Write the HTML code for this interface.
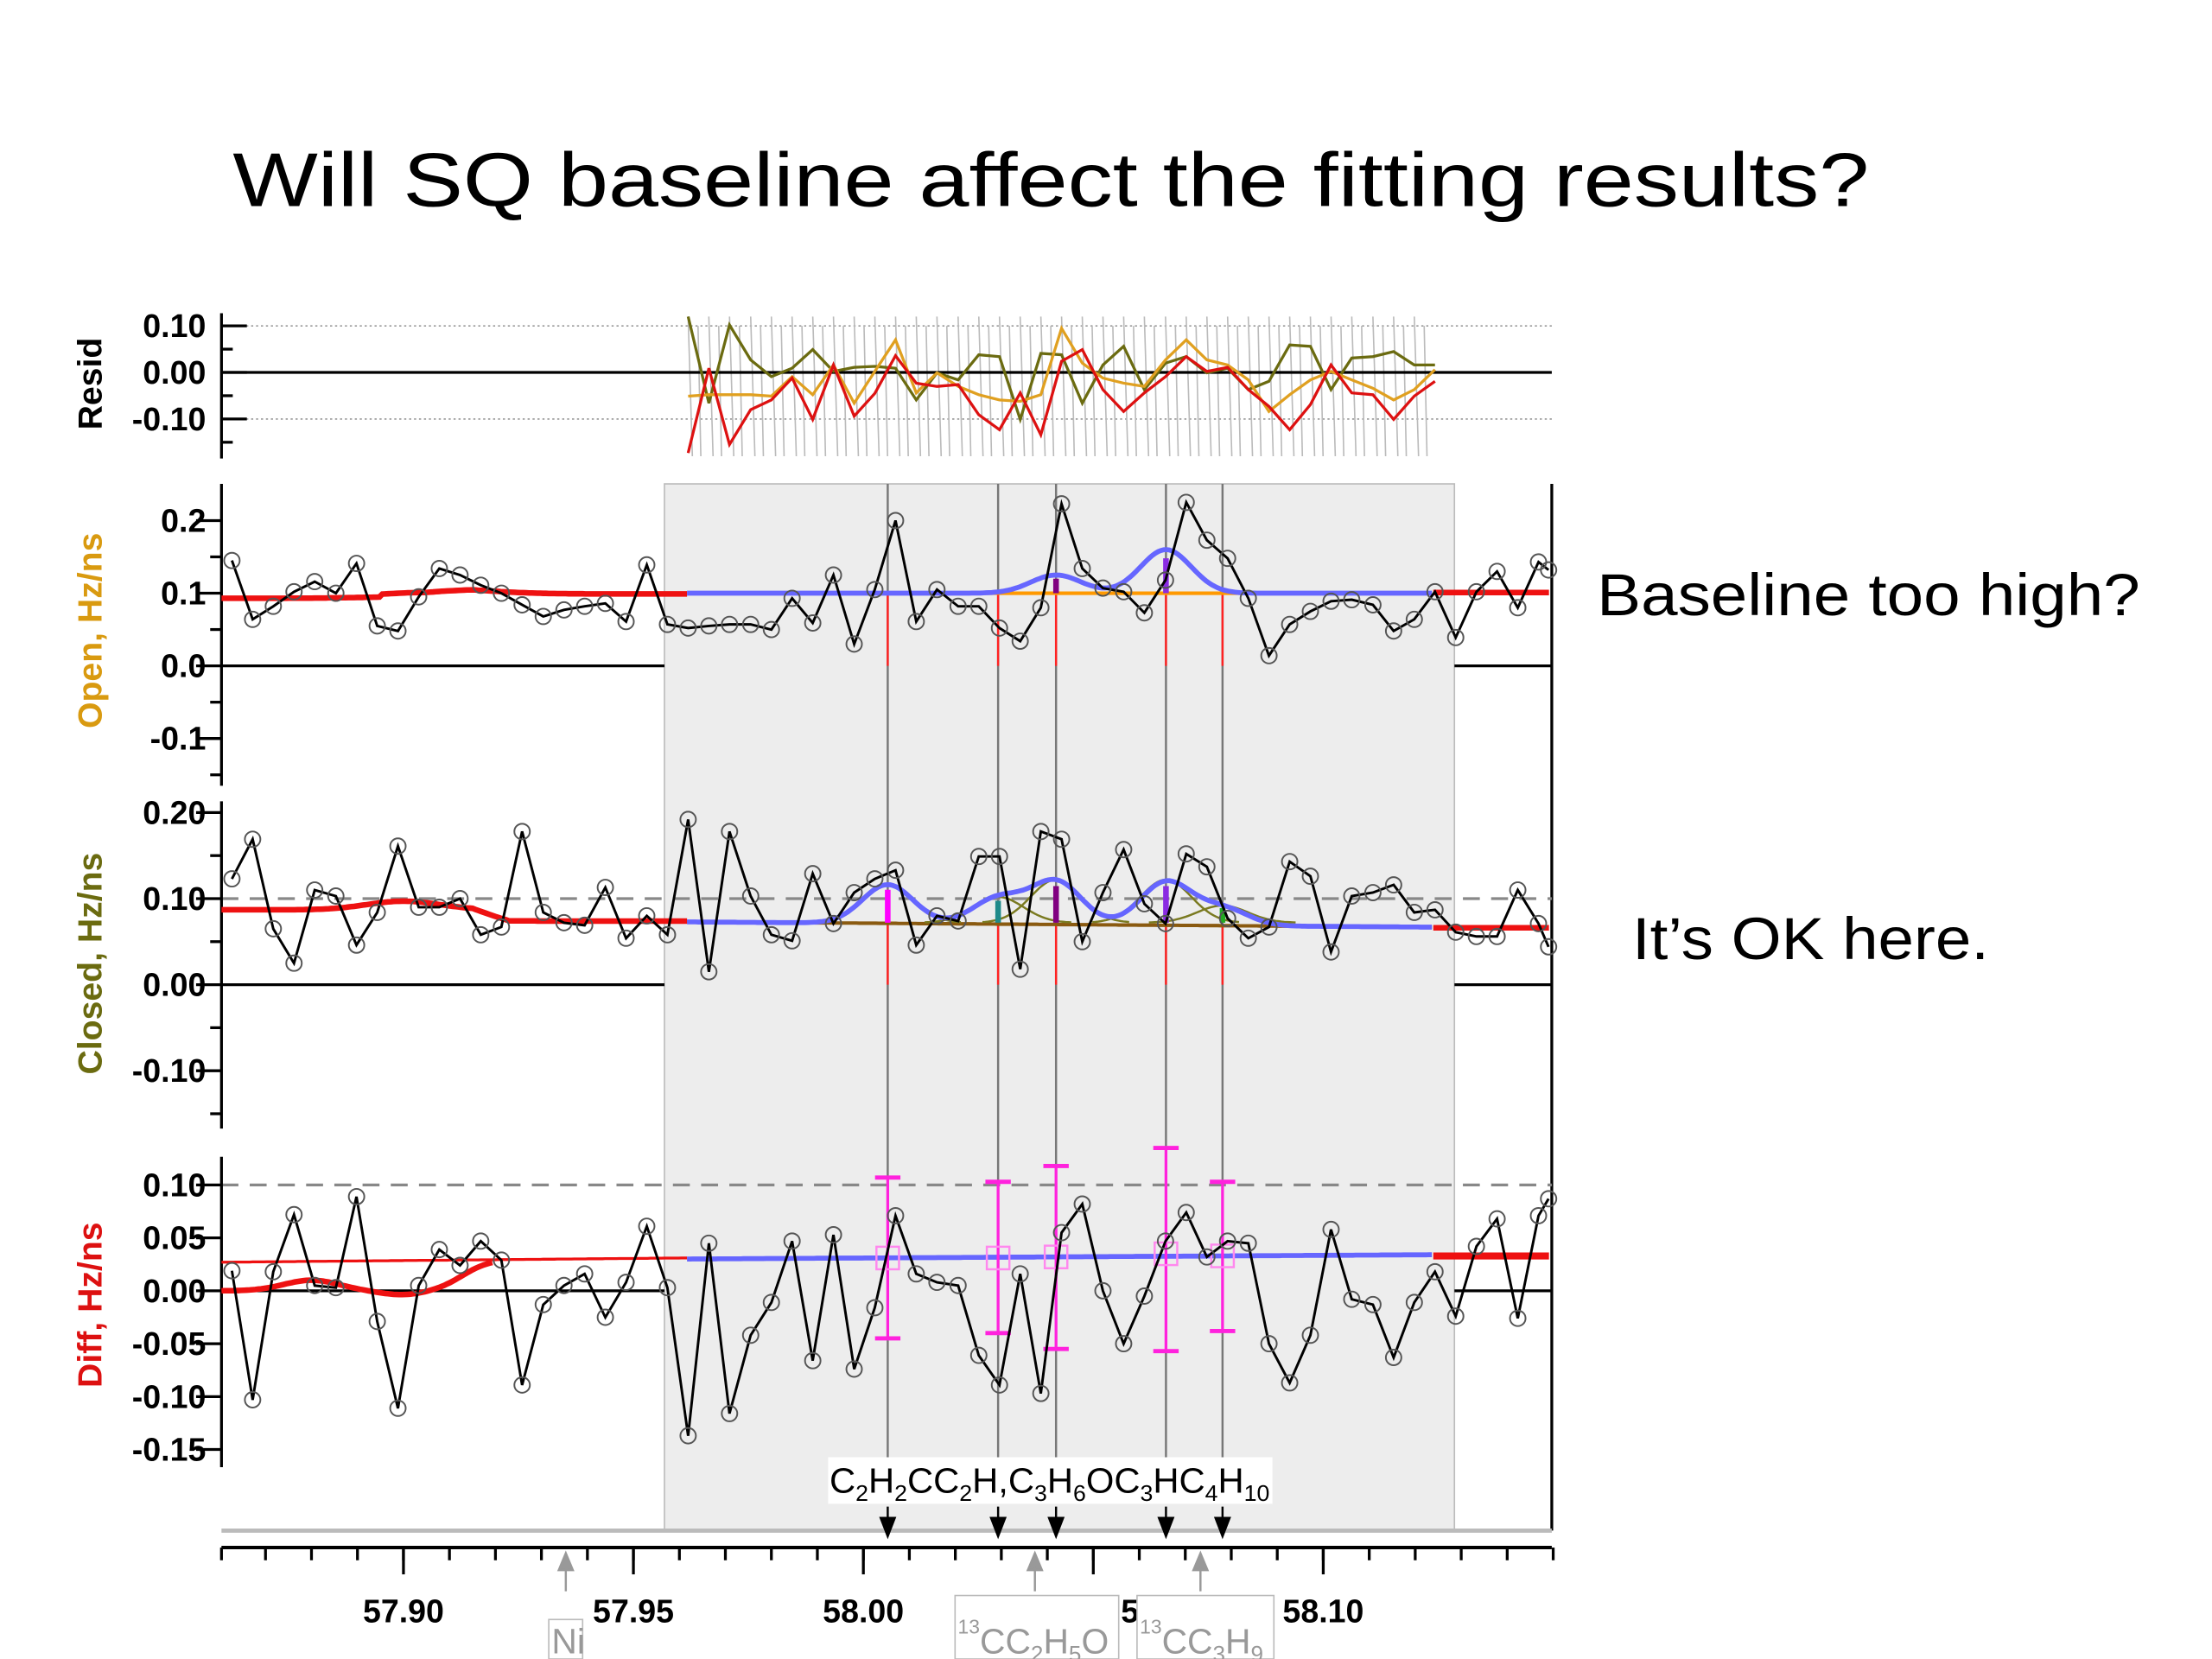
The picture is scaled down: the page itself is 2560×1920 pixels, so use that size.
<!DOCTYPE html>
<html><head><meta charset="utf-8"><style>
html,body{margin:0;padding:0;background:#fff;}
svg{display:block;}
text{font-family:"Liberation Sans",Arial,sans-serif;}
</style></head><body>
<svg id="chart" width="2560" height="1920" viewBox="0 0 1568 1176" xmlns="http://www.w3.org/2000/svg">
<rect x="0" y="0" width="1568" height="1176" fill="#fff"/>
<text x="165" y="146" font-size="54" textLength="1160" lengthAdjust="spacingAndGlyphs">Will SQ baseline affect the fitting results?</text>
<text x="1132" y="436" font-size="42" textLength="385" lengthAdjust="spacingAndGlyphs">Baseline too high?</text>
<text x="1157" y="680" font-size="42" textLength="253" lengthAdjust="spacingAndGlyphs">It’s OK here.</text>
<rect x="471" y="343" width="560" height="742" fill="#ededed" stroke="#bbb" stroke-width="1"/>
<g id="g"></g>
</svg>
<script>
const masses=[57.8627,57.8672,57.8717,57.8762,57.8807,57.8853,57.8898,57.8943,57.8988,57.9033,57.9078,57.9123,57.9168,57.9213,57.9258,57.9304,57.9349,57.9394,57.9439,57.9484,57.9529,57.9574,57.9619,57.9664,57.9709,57.9755,57.9800,57.9845,57.9890,57.9935,57.9980,58.0025,58.0070,58.0115,58.0160,58.0206,58.0251,58.0296,58.0341,58.0386,58.0431,58.0476,58.0521,58.0566,58.0611,58.0657,58.0702,58.0747,58.0792,58.0837,58.0882,58.0927,58.0972,58.1017,58.1062,58.1108,58.1153,58.1198,58.1243,58.1288,58.1333,58.1378,58.1423,58.1468,58.1490];
const openVals=[.145,.064,.082,.102,.116,.100,.141,.055,.048,.095,.134,.125,.111,.100,.084,.068,.077,.082,.086,.061,.139,.057,.052,.055,.057,.057,.050,.093,.059,.125,.030,.105,.200,.061,.105,.082,.082,.052,.034,.080,.223,.134,.107,.102,.073,.118,.225,.173,.148,.093,.014,.057,.075,.089,.091,.084,.048,.064,.102,.039,.102,.130,.080,.143,.132];
const closedVals=[.123,.169,.065,.025,.110,.103,.046,.084,.161,.090,.090,.100,.058,.067,.178,.084,.072,.069,.113,.054,.080,.058,.192,.015,.178,.103,.058,.051,.129,.071,.107,.123,.133,.046,.080,.074,.149,.149,.018,.178,.169,.050,.107,.157,.094,.071,.152,.137,.077,.054,.067,.143,.126,.038,.103,.107,.116,.084,.087,.061,.056,.056,.110,.071,.044];
const diffVals=[.019,-.103,.018,.072,.005,.003,.089,-.029,-.111,.005,.039,.024,.047,.029,-.089,-.013,.005,.016,-.025,.008,.061,.003,-.137,.045,-.116,-.042,-.011,.047,-.066,.053,-.074,-.016,.071,.016,.008,.005,-.061,-.089,.016,-.097,.055,.082,0,-.050,-.005,.047,.074,.032,.047,.045,-.050,-.087,-.042,.058,-.008,-.013,-.063,-.011,.018,-.024,.042,.068,-.026,.071,.087];
const residStart=22;
const residRed=[-.173,.009,-.155,-.080,-.059,-.012,-.101,.016,-.094,-.045,.036,-.023,-.030,-.026,-.091,-.123,-.044,-.134,.024,.049,-.037,-.084,-.044,-.009,.034,.002,.011,-.037,-.073,-.123,-.069,.016,-.044,-.048,-.101,-.051,-.019];
const residOrange=[-.051,-.048,-.048,-.048,-.051,-.009,-.048,.016,-.066,.002,.070,-.044,-.001,-.030,-.048,-.059,-.062,-.048,.095,.020,-.012,-.023,-.030,.027,.070,.027,.016,-.016,-.084,-.048,-.016,.002,-.016,-.034,-.059,-.037,.006];
const residOlive=[.120,-.066,.102,.027,-.009,.009,.049,.002,.011,.013,.009,-.059,-.001,-.016,.038,.034,-.101,.041,.038,-.066,.016,.056,-.037,.020,.034,-.001,.009,-.037,-.019,.059,.056,-.037,.031,.034,.045,.016,.016];
const peakMasses=[58.0053,58.0293,58.0419,58.0658,58.0781];
const peakLabels=["C2H2","CC2H","C3H6O","C3H","C4H10"];
const openPeakH=[0,0,0.025,0.06,0];
const closedPeakH=[0.045,0.03,0.05,0.05,0.02];
const diffErrLo=[-0.045,-0.040,-0.055,-0.057,-0.038];
const diffErrHi=[0.107,0.103,0.118,0.135,0.103];
const diffCenter=[0.031,0.031,0.032,0.035,0.033];
const stickColors=["#ff00ff","#1f8a8a","#800080","#8a2be2","#22aa22"];
const xTicks=[57.90,57.95,58.00,58.05,58.10];
const xTickLabels=["57.90","57.95","58.00","5","58.10"];
const residTicks=[0.10,0,-0.10];const residTickLabels=["0.10","0.00","-0.10"];
const openTicks=[0.2,0.1,0,-0.1];const openTickLabels=["0.2","0.1","0.0","-0.1"];
const closedTicks=[0.20,0.10,0,-0.10];const closedTickLabels=["0.20","0.10","0.00","-0.10"];
const diffTicks=[0.10,0.05,0,-0.05,-0.10,-0.15];const diffTickLabels=["0.10","0.05","0.00","-0.05","-0.10","-0.15"];

const NS="http://www.w3.org/2000/svg";
const G=document.getElementById('g');
function el(tag,attrs,parent){const e=document.createElementNS(NS,tag);for(const k in attrs)e.setAttribute(k,attrs[k]);(parent||G).appendChild(e);return e;}
const X=m=>286+(m-57.90)*3260;
const Yr=v=>264-v*330, Yo=v=>472-v*515, Yc=v=>698-v*610, Yd=v=>915-v*750;
const L=157,R=1100,FL=487,FR=1016;
function gauss(m,c,s){return Math.exp(-0.5*((m-c)/s)**2);}
function curve(fn,Y,m0,m1,attrs,name){let d="";for(let px=X(m0);px<=X(m1);px+=2){const m=57.90+(px-286)/3260;d+=(d?"L":"M")+px.toFixed(1)+","+Y(fn(m)).toFixed(1);}const p=el('path',Object.assign({d:d,fill:'none'},attrs));return p;}
function mx(px){return 57.90+(px-286)/3260;}

function yAxis(name,Y,top,bot,ticks,labels,minor,side){
  const g=el('g',{});
  el('line',{x1:L,y1:top,x2:L,y2:bot,stroke:'#000','stroke-width':2},g);
  ticks.forEach((t,i)=>{const y=Y(t);
    el('line',{x1:side>0?L:L-18,y1:y,x2:side>0?L+18:L,y2:y,stroke:'#000','stroke-width':2},g);
    const tx=el('text',{x:146,y:y+8,'font-size':23,'font-weight':'bold','text-anchor':'end'},g);tx.textContent=labels[i];});
  minor.forEach(t=>{const y=Y(t);el('line',{x1:side>0?L:L-8,y1:y,x2:side>0?L+8:L,y2:y,stroke:'#000','stroke-width':2},g);});
}
function yTitle(name,txt,color,cy){const t=el('text',{x:0,y:0,'font-size':24,'font-weight':'bold',fill:color,'text-anchor':'middle',transform:`translate(72,${cy}) rotate(-90)`});t.textContent=txt;}

// Resid panel
[0.10,-0.10].forEach(v=>{const l=el('line',{x1:L,y1:Yr(v),x2:R,y2:Yr(v),stroke:'#999','stroke-width':1,'stroke-dasharray':'1.5,2'});});
const grayIdx=[0,1,2,3,4,5,6,7,8,9,10,11,12,13,14,15,16,17,18,19,20,21,22,23,24,25,26,27,28,29,30,31,32,33,34,35];
grayIdx.forEach(k=>{const i=residStart+k;const x0=X(masses[i]);const p=el('path',{d:`M${x0},${Yr(0.12)}L${x0+3},${Yr(-0.18)}M${x0+7},${Yr(0.10)}L${x0+9},${Yr(-0.18)}`,stroke:'#bbb','stroke-width':1,fill:'none'});});
el('line',{x1:L,y1:Yr(0),x2:R,y2:Yr(0),stroke:'#000','stroke-width':2});
yAxis('resid-y-axis',Yr,222,325,residTicks,residTickLabels,[0.05,-0.05,-0.15],1);
yTitle('resid-y-title','Resid','#000',272);
[[residOlive,'#6b6b10','resid-closed-line'],[residOrange,'#e0a020','resid-open-line'],[residRed,'#dd1111','resid-diff-line']].forEach(([arr,c,n])=>{
  const d=arr.map((v,k)=>(k?'L':'M')+X(masses[residStart+k]).toFixed(1)+','+Yr(v).toFixed(1)).join('');
  const p=el('path',{d:d,fill:'none',stroke:c,'stroke-width':2});});

peakMasses.forEach((m,i)=>{const l=el('line',{x1:X(m),y1:343,x2:X(m),y2:1065,stroke:'#777','stroke-width':1.5});});
el('line',{x1:R,y1:343,x2:R,y2:1085,stroke:'#000','stroke-width':2});

// Open panel
el('line',{x1:L,y1:Yo(0),x2:471,y2:Yo(0),stroke:'#000','stroke-width':2});
el('line',{x1:1031,y1:Yo(0),x2:R,y2:Yo(0),stroke:'#000','stroke-width':2});
yAxis('open-y-axis',Yo,343,557,openTicks,openTickLabels,[0.15,0.05,-0.05,-0.15],-1);
yTitle('open-y-title','Open, Hz/ns','#d99a10',447);
peakMasses.forEach((m,i)=>{const l=el('line',{x1:X(m),y1:Yo(0),x2:X(m),y2:Yo(0.1),stroke:'#ff2222','stroke-width':1.5});});
curve(m=>0.093+0.008*gauss(m,57.905,0.012)*(m>57.895?1:0.3)+(m>57.905?0.006:0)*Math.min(1,(m-57.905)/0.01),Yo,mx(L),mx(FL),{stroke:'#ee1111','stroke-width':4},'open-baseline-left');
curve(m=>0.101,Yo,mx(FR),mx(R),{stroke:'#ee1111','stroke-width':4},'open-baseline-right');
curve(m=>0.1,Yo,mx(580),mx(905),{stroke:'#ff9900','stroke-width':2.5},'open-component-baseline');
curve(m=>0.1+peakMasses.reduce((s,c,i)=>s+openPeakH[i]*gauss(m,c,0.0055),0),Yo,mx(FL),mx(FR),{stroke:'#6666ff','stroke-width':3.5},'open-fit-curve');
peakMasses.forEach((m,i)=>{if(openPeakH[i]>0){const l=el('line',{x1:X(m),y1:Yo(0.1),x2:X(m),y2:Yo(0.1+openPeakH[i]*0.8),stroke:stickColors[i],'stroke-width':4});}});

// Closed panel
el('line',{x1:L,y1:Yc(0.10),x2:R,y2:Yc(0.10),stroke:'#888','stroke-width':2,'stroke-dasharray':'12,8'});
el('line',{x1:L,y1:Yc(0),x2:471,y2:Yc(0),stroke:'#000','stroke-width':2});
el('line',{x1:1031,y1:Yc(0),x2:R,y2:Yc(0),stroke:'#000','stroke-width':2});
yAxis('closed-y-axis',Yc,568,800,closedTicks,closedTickLabels,[0.15,0.05,-0.05,-0.15],-1);
yTitle('closed-y-title','Closed, Hz/ns','#6b6b10',683);
peakMasses.forEach((m,i)=>{const l=el('line',{x1:X(m),y1:Yc(0),x2:X(m),y2:Yc(0.07),stroke:'#ff2222','stroke-width':1.5});});
curve(m=>0.087+0.01*gauss(m,57.900,0.008)-(m>57.915?0.013*Math.min(1,(m-57.915)/0.008):0),Yc,mx(L),mx(FL),{stroke:'#ee1111','stroke-width':4},'closed-baseline-left');
curve(m=>0.066,Yc,mx(FR),mx(R),{stroke:'#ee1111','stroke-width':4},'closed-baseline-right');
curve(m=>0.073-0.006*(m-57.96)/0.16,Yc,mx(FL),mx(FR),{stroke:'#8a5a10','stroke-width':2.5},'closed-component-baseline');
peakMasses.forEach((c,i)=>{curve(m=>0.072+closedPeakH[i]*gauss(m,c,0.0055),Yc,c-0.016,c+0.016,{stroke:'#7a7a20','stroke-width':1.5},'closed-component-'+peakLabels[i].toLowerCase());});
curve(m=>0.073-0.006*(m-57.96)/0.16+peakMasses.reduce((s,c,i)=>s+closedPeakH[i]*gauss(m,c,0.0055),0),Yc,mx(FL),mx(FR),{stroke:'#6666ff','stroke-width':3.5},'closed-fit-curve');
peakMasses.forEach((m,i)=>{const l=el('line',{x1:X(m),y1:Yc(0.072),x2:X(m),y2:Yc(0.072+closedPeakH[i]*0.85),stroke:stickColors[i],'stroke-width':4});});

// Diff panel
el('line',{x1:L,y1:Yd(0.10),x2:R,y2:Yd(0.10),stroke:'#888','stroke-width':2,'stroke-dasharray':'12,8'});
el('line',{x1:L,y1:Yd(0),x2:471,y2:Yd(0),stroke:'#000','stroke-width':2});
el('line',{x1:1031,y1:Yd(0),x2:R,y2:Yd(0),stroke:'#000','stroke-width':2});
yAxis('diff-y-axis',Yd,820,1040,diffTicks,diffTickLabels,[],-1);
yTitle('diff-y-title','Diff, Hz/ns','#dd1111',925);
curve(m=>0.027+0.004*(m-57.86)/0.1,Yd,mx(L),mx(FL),{stroke:'#ee1111','stroke-width':2},'diff-baseline-left');
curve(m=>0.01*gauss(m,57.88,0.006)-0.004*gauss(m,57.90,0.005)+0.03/(1+Math.exp(-(m-57.913)/0.003)),Yd,mx(L),mx(350),{stroke:'#ee1111','stroke-width':4},'diff-baseline-wave');
curve(m=>0.030+0.004*(m-57.96)/0.16,Yd,mx(FL),mx(FR),{stroke:'#6666ff','stroke-width':3.5},'diff-fit-curve');
curve(m=>0.033,Yd,mx(FR),mx(R),{stroke:'#ee1111','stroke-width':5},'diff-baseline-right');
peakMasses.forEach((m,i)=>{const g=el('g',{});const x=X(m);
  el('line',{x1:x,y1:Yd(diffErrLo[i]),x2:x,y2:Yd(diffErrHi[i]),stroke:'#ff22dd','stroke-width':2},g);
  [diffErrLo[i],diffErrHi[i]].forEach(v=>el('line',{x1:x-9,y1:Yd(v),x2:x+9,y2:Yd(v),stroke:'#ff22dd','stroke-width':3},g));
  el('rect',{x:x-8,y:Yd(diffCenter[i])-8,width:16,height:16,fill:'none',stroke:'#ff88ee','stroke-width':1.5},g);});

function series(vals,Y,name){const g=el('g',{});
  const d=vals.map((v,i)=>(i?'L':'M')+X(masses[i]).toFixed(1)+','+Y(v).toFixed(1)).join('');
  el('path',{d:d,fill:'none',stroke:'#000','stroke-width':1.8},g);
  vals.forEach((v,i)=>{const c=el('circle',{cx:X(masses[i]),cy:Y(v),r:5.5,fill:'none',stroke:'#555','stroke-width':1.2},g);});}
series(openVals,Yo,'open-data-series');
series(closedVals,Yc,'closed-data-series');
series(diffVals,Yd,'diff-data-series');

// x axis
const ax=el('g',{});
el('line',{x1:L,y1:1085,x2:R,y2:1085,stroke:'#bbb','stroke-width':3},ax);
el('line',{x1:L,y1:1097,x2:R,y2:1097,stroke:'#000','stroke-width':2.5},ax);
for(let k=0;k<30;k++){const m=57.87+k*0.01;const x=X(m);if(x<L-1||x>R+1)continue;el('line',{x1:x,y1:1097,x2:x,y2:1106,stroke:'#000','stroke-width':2},ax);}
el('line',{x1:L,y1:1097,x2:L,y2:1106,stroke:'#000','stroke-width':2},ax);
xTicks.forEach((m,i)=>{const x=X(m);el('line',{x1:x,y1:1097,x2:x,y2:1116,stroke:'#000','stroke-width':2},ax);
  const t=el('text',{x:(i===3?801:x),y:1150,'font-size':23,'font-weight':'bold','text-anchor':'middle'},ax);t.textContent=xTickLabels[i];});

// formula labels
const lab=el('g',{});
el('rect',{x:587,y:1033,width:315,height:33,fill:'#fff'},lab);
const ft=el('text',{x:588,y:1058,'font-size':25,textLength:312,lengthAdjust:'spacingAndGlyphs'},lab);
ft.innerHTML='C<tspan font-size="16" dy="6">2</tspan><tspan dy="-6">H</tspan><tspan font-size="16" dy="6">2</tspan><tspan dy="-6">CC</tspan><tspan font-size="16" dy="6">2</tspan><tspan dy="-6">H,C</tspan><tspan font-size="16" dy="6">3</tspan><tspan dy="-6">H</tspan><tspan font-size="16" dy="6">6</tspan><tspan dy="-6">OC</tspan><tspan font-size="16" dy="6">3</tspan><tspan dy="-6">HC</tspan><tspan font-size="16" dy="6">4</tspan><tspan dy="-6">H</tspan><tspan font-size="16" dy="6">10</tspan>';
peakMasses.forEach(m=>{const x=X(m);const a=el('path',{d:`M${x},1068L${x},1078M${x-5},1076L${x+5},1076L${x},1089Z`,stroke:'#000','stroke-width':1.5,fill:'#000'},lab);});

// gray reference markers
const refMasses=[57.9353,58.0373,58.0733];
const refLabels=[['Ni'],['13','CC','2','H','5','O'],['13','CC','3','H','9']];
const refBoxes=[[389,1148,24,28],[677,1131,116,45],[806,1131,97,45]];
refMasses.forEach((m,i)=>{const g=el('g',{});const x=X(m);
  el('path',{d:`M${x},1128L${x},1110M${x-5},1113L${x+5},1113L${x},1101Z`,stroke:'#999','stroke-width':1.5,fill:'#999'},g);
  const b=refBoxes[i];el('rect',{x:b[0],y:b[1],width:b[2],height:b[3],fill:'#fff',stroke:'#bbb','stroke-width':1},g);
  const t=el('text',{x:b[0]+2,y:1172,'font-size':25,fill:'#999'},g);
  if(i===0){t.textContent='Ni';}
  else{const p=refLabels[i];let h=`<tspan font-size="14" dy="-14">${p[0]}</tspan><tspan dy="14">${p[1]}</tspan>`;for(let k=2;k<p.length;k++){h+=(k%2===0)?`<tspan font-size="16" dy="6">${p[k]}</tspan>`:`<tspan dy="-6">${p[k]}</tspan>`;}t.innerHTML=h;}
});
</script>
</body></html>
